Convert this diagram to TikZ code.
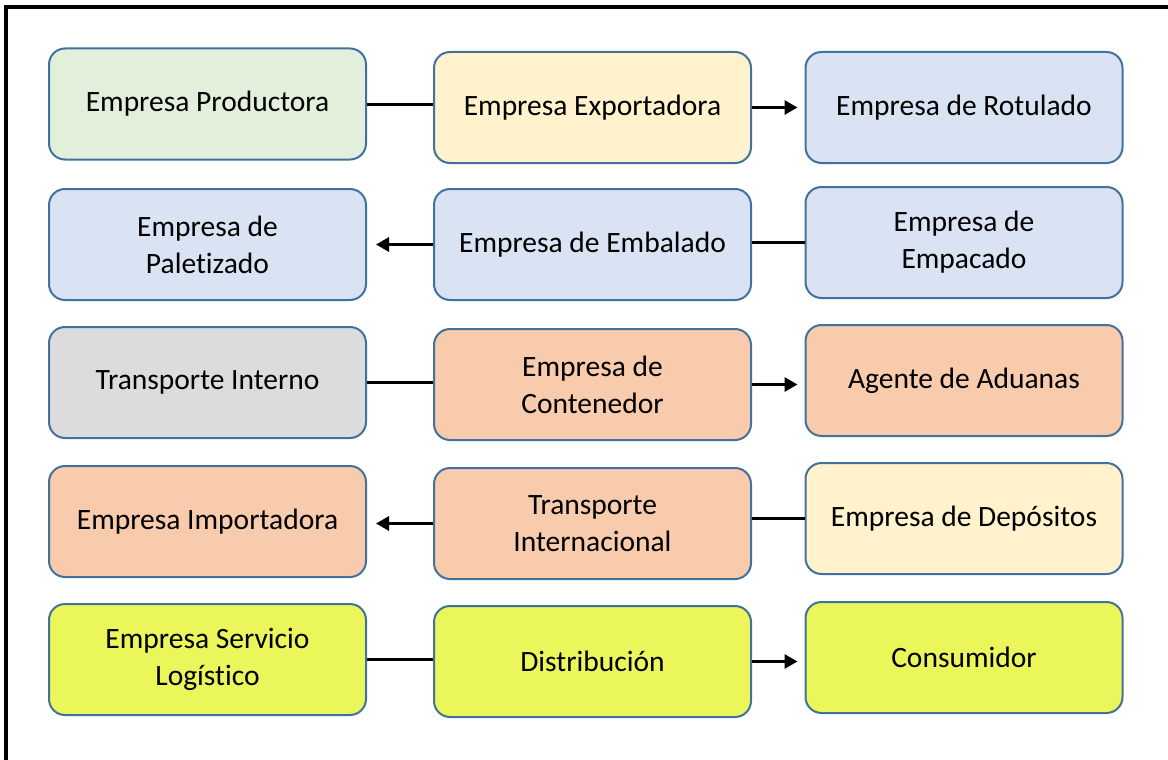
\documentclass[tikz,border=0pt]{standalone}
\usepackage{fontspec}
\setmainfont[Ligatures=NoCommon]{Carlito}
\usepackage{xcolor}
\usetikzlibrary{positioning,calc,arrows.meta}

\definecolor{edgeblue}{HTML}{41719C}
\definecolor{cgreen}{HTML}{E2EFDA}
\definecolor{cyellow}{HTML}{FFF2CC}
\definecolor{cblue}{HTML}{DAE3F3}
\definecolor{cgray}{HTML}{DCDCDC}
\definecolor{corange}{HTML}{F8CBAD}
\definecolor{clime}{HTML}{EBF65A}

\tikzset{
  box/.style={draw=edgeblue, line width=2pt, rounded corners=16pt,
    minimum width=317pt, minimum height=111pt, align=center,
    font=\fontsize{29.5}{37}\selectfont},
  link/.style={line width=3pt},
  arr/.style={line width=3pt, -{Triangle[length=13pt,width=14pt]}}
}

\begin{document}
\begin{tikzpicture}[x=1pt, y=-1pt]
    \useasboundingbox (0,0) rectangle (1168,760);
    \draw[line width=4pt] (6,7) rectangle (1300,900);

    % fila 1
    \node [box, fill=cgreen] (prod) at (207.5,104) {Empresa Productora};
    \node [box, fill=cyellow] (expo) at (592.5,107.5) {Empresa Exportadora};
    \node [box, fill=cblue] (rotu) at (964,107.5) {Empresa de Rotulado};
    % fila 2
    \node [box, fill=cblue] (pale) at (207.5,244.5) {Empresa de\\Paletizado};
    \node [box, fill=cblue] (emba) at (592.5,244.5) {Empresa de Embalado};
    \node [box, fill=cblue] (empa) at (964,242.5) {Empresa de\\Empacado};
    % fila 3
    \node [box, fill=cgray] (tint) at (207.5,382.5) {Transporte Interno};
    \node [box, fill=corange] (cont) at (592.5,384.5) {Empresa de\\Contenedor};
    \node [box, fill=corange] (adua) at (964,380.5) {Agente de Aduanas};
    % fila 4
    \node [box, fill=corange] (impo) at (207.5,521.5) {Empresa Importadora};
    \node [box, fill=corange] (tinl) at (592.5,523.5) {Transporte\\Internacional};
    \node [box, fill=cyellow] (depo) at (964,518.5) {Empresa de Depósitos};
    % fila 5
    \node [box, fill=clime] (serv) at (207.5,659.5) {Empresa Servicio\\Logístico};
    \node [box, fill=clime] (dist) at (592.5,661.5) {Distribución};
    \node [box, fill=clime] (cons) at (964,657.5) {Consumidor};

    \draw [link] (prod.east) -- (expo.west |- prod.east);
    \draw [arr] (expo.east) -- ([xshift=-7pt]rotu.west |- expo.east);
    \draw [link] (empa.west) -- (emba.east |- empa.west);
    \draw [arr] (emba.west) -- ([xshift=9pt]pale.east |- emba.west);
    \draw [link] (tint.east) -- (cont.west |- tint.east);
    \draw [arr] (cont.east) -- ([xshift=-7pt]adua.west |- cont.east);
    \draw [link] (depo.west) -- (tinl.east |- depo.west);
    \draw [arr] (tinl.west) -- ([xshift=9pt]impo.east |- tinl.west);
    \draw [link] (serv.east) -- (dist.west |- serv.east);
    \draw [arr] (dist.east) -- ([xshift=-7pt]cons.west |- dist.east);
\end{tikzpicture}
\end{document}
